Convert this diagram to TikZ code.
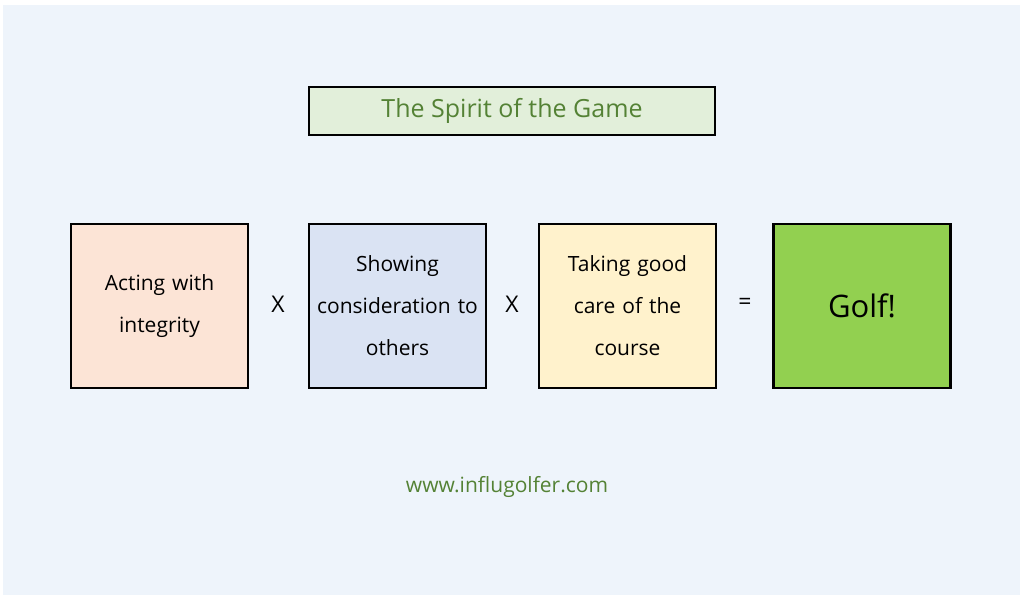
\documentclass[tikz,border=0pt]{standalone}
\usepackage{fontspec}
\setmainfont{Open Sans}
\usepackage{tikz}
\usetikzlibrary{positioning}
\definecolor{panelblue}{HTML}{EEF4FB}
\definecolor{titlefill}{HTML}{E2EFDA}
\definecolor{titletext}{HTML}{548235}
\definecolor{peach}{HTML}{FCE4D6}
\definecolor{lavender}{HTML}{DAE3F3}
\definecolor{cream}{HTML}{FFF2CC}
\definecolor{golfgreen}{HTML}{92D050}
\tikzset{
    factor/.style={
        rectangle, draw=black, line width=2.5pt,
        minimum width=177pt, minimum height=164pt,
        text width=170pt, align=center,
        font=\fontsize{21}{42}\selectfont,
    },
    operator/.style={
        font=\fontsize{23}{26}\selectfont, text=black,
    },
}
\begin{document}
\begin{tikzpicture}[x=1pt,y=1pt]
    \useasboundingbox (0,0) rectangle (1024,603);
    \fill[white] (0,0) rectangle (1024,603);
    \fill[panelblue] (3,8) rectangle (1020,598);

    \node (title) at(512,492) [
        rectangle, draw=black, line width=2.5pt,
        fill=titlefill,
        minimum width=406pt, minimum height=48pt,
        text=titletext, font=\fontsize{25}{28}\selectfont,
    ] {The Spirit of the Game};

    \node (integrity) at(159.5,297) [factor, fill=peach] {Acting with\\integrity};
    \node (times1) at(278,299) [operator] {X};
    \node (others) at(397.5,297) [factor, fill=lavender] {Showing\\consideration to\\others};
    \node (times2) at(512,299) [operator] {X};
    \node (course) at(627.5,297) [factor, fill=cream] {Taking good\\care of the\\course};
    \node (equals) at(745,299) [operator] {=};
    \node (golf) at(862,297) [factor, fill=golfgreen,
        font=\fontsize{31}{34}\selectfont] {Golf!};

    \node (site) at(507,116) [
        text=titletext, font=\fontsize{21}{24}\selectfont,
    ] {www.influgolfer.com};
\end{tikzpicture}
\end{document}
